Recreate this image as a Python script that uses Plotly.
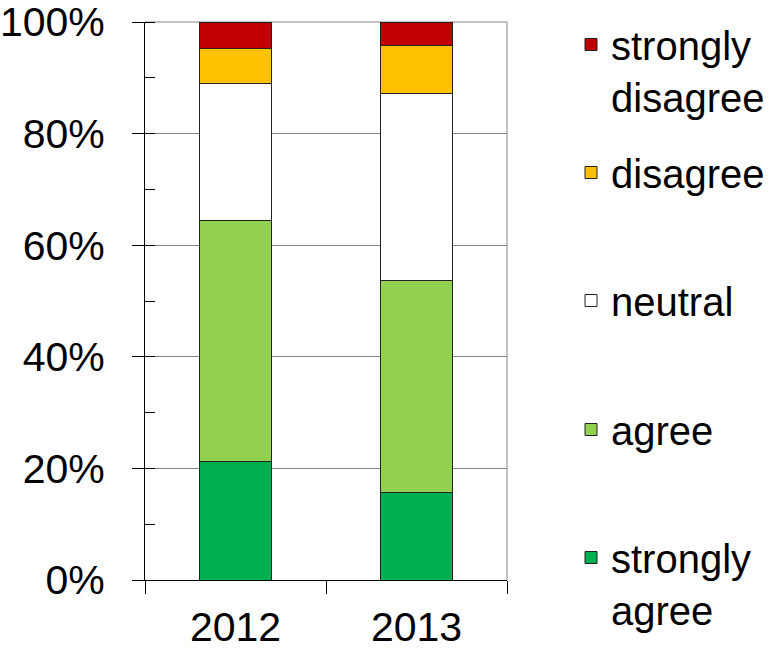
import plotly.graph_objects as go

years = ["2012", "2013"]
strongly_agree = [21.3, 15.6]
agree = [43.2, 38.0]
neutral = [24.5, 33.6]
disagree = [6.3, 8.6]
strongly_disagree = [4.7, 4.2]

y_ticks = [0, 20, 40, 60, 80, 100]
y_tick_labels = [f"{v}%" for v in y_ticks]

series = [
    ("strongly<br>agree", strongly_agree, "#00B050", "legend5"),
    ("agree", agree, "#92D050", "legend4"),
    ("neutral", neutral, "#FFFFFF", "legend3"),
    ("disagree", disagree, "#FFC000", "legend2"),
    ("strongly<br>disagree", strongly_disagree, "#C00000", "legend"),
]

FONT = "Liberation Sans, Arial, sans-serif"
FS = 41
LFS = 40

fig = go.Figure()
for name, vals, color, leg in series:
    fig.add_trace(go.Bar(
        x=years, y=vals, name=name, legend=leg,
        marker=dict(color=color, line=dict(color="#222222", width=1)),
        width=0.4,
    ))

W, H = 773, 650
P_LEFT, P_TOP, P_W, P_H = 145, 22, 362, 558  # plot area in window pixels
ML, MT = P_LEFT, P_TOP
MR = W - ML - P_W
MB = H - MT - P_H


def lx(px):
    return (px - P_LEFT) / P_W


def ly(py):
    return 1 - (py - P_TOP) / P_H


legend_tops = {"legend": 12, "legend2": 140, "legend3": 268, "legend4": 397, "legend5": 525}
leg_common = dict(font=dict(family=FONT, size=LFS, color="#000000"),
                  bgcolor="rgba(0,0,0,0)", valign="top",
                  xanchor="left", yanchor="top", x=lx(571))

layout_legends = {}
for k, top in legend_tops.items():
    d = dict(leg_common)
    d["y"] = ly(top)
    layout_legends[k] = d

fig.update_layout(
    width=W, height=H,
    margin=dict(l=ML, r=MR, t=MT, b=MB, pad=0, autoexpand=False),
    barmode="stack",
    plot_bgcolor="#FFFFFF", paper_bgcolor="#FFFFFF",
    font=dict(family=FONT, size=FS, color="#000000"),
    showlegend=True,
    **layout_legends,
)

fig.update_xaxes(
    type="category", range=[-0.5, 1.5], automargin=False,
    showline=True, linecolor="#000000", linewidth=1,
    ticks="outside", ticklen=13, tickcolor="#000000", tickson="boundaries",
    showgrid=False, ticklabelstandoff=11, ticklabeloverflow="allow",
    tickfont=dict(family=FONT, size=FS, color="#000000"),
)
fig.update_yaxes(
    range=[0, 100], tickmode="array", tickvals=y_ticks, ticktext=y_tick_labels,
    automargin=False,
    showline=True, linecolor="#000000", linewidth=1,
    ticks="outside", ticklen=12, tickcolor="#000000",
    showgrid=True, gridcolor="#868686", gridwidth=1, zeroline=False,
    ticklabelstandoff=19, ticklabeloverflow="allow",
    tickfont=dict(family=FONT, size=FS, color="#000000"),
    minor=dict(ticks="inside", ticklen=10, dtick=10, tick0=0, tickcolor="#000000", showgrid=False),
)

# plot-area frame: top edge (100% line) and right edge
fig.add_shape(type="line", xref="paper", yref="paper", x0=0, x1=1, y0=1, y1=1,
              line=dict(color="#868686", width=1), layer="below")
fig.add_shape(type="line", xref="paper", yref="paper", x0=1, x1=1, y0=0, y1=1,
              line=dict(color="#868686", width=1), layer="below")

fig.write_html("out.html", config={"displayModeBar": False},
               post_script="document.body.style.margin='0';")
